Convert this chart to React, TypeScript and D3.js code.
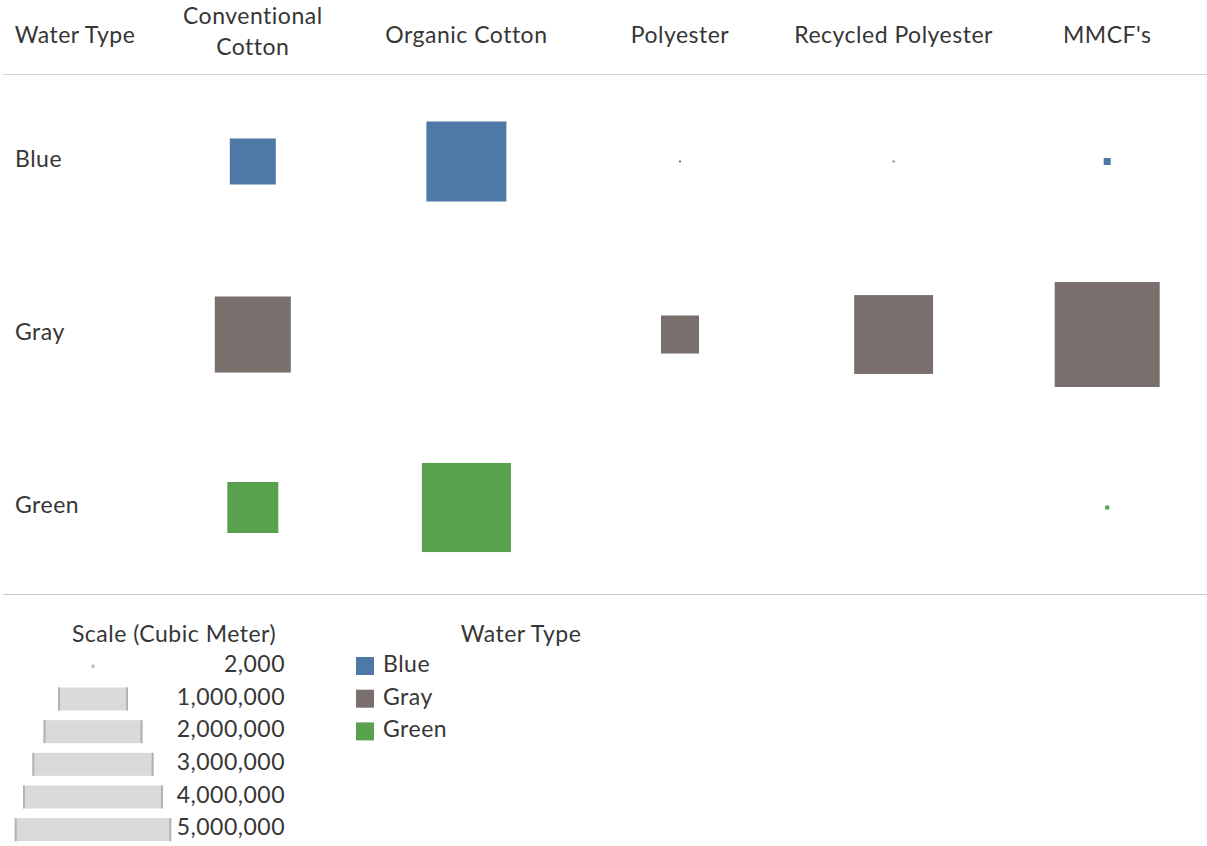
import React from "react";
import * as d3 from "d3";

const materials = ["Conventional Cotton", "Organic Cotton", "Polyester", "Recycled Polyester", "MMCF's"];
const materialLines = [["Conventional", "Cotton"], ["Organic Cotton"], ["Polyester"], ["Recycled Polyester"], ["MMCF's"]];
const waterTypes = ["Blue", "Gray", "Green"];
const waterColors = ["#4e79a7", "#79706e", "#59a14f"];

// values in cubic meters, per water type, per material (null = no data)
const blueValues = [432000, 1306000, 800, 700, 10000];
const grayValues = [1180000, null, 295000, 1270000, 2250000];
const greenValues = [531000, 1620000, null, null, 3300];
const seriesValues = [blueValues, grayValues, greenValues];

const scaleTicks = [2000, 1000000, 2000000, 3000000, 4000000, 5000000];

const W = 1207;
const H = 846;
const FONT = "Lato, 'Open Sans', sans-serif";
const TXT = "#363636";
const FS = 23;
const LS = 0.5;

export default function App() {
  const x = d3.scaleBand<string>().domain(materials).range([146, 1214]);
  const y = d3.scaleBand<string>().domain(waterTypes).range([75, 594]);
  const side = d3.scaleSqrt().domain([0, 1000000]).range([0, 70]);
  const legY = d3.scaleBand<string>().domain(scaleTicks.map(String)).range([650, 846]);
  const fmt = d3.format(",");

  return (
    <div style={{ position: "absolute", left: 0, top: 0 }}>
      <svg width={W} height={H} style={{ display: "block", background: "#fff" }} fontFamily={FONT} letterSpacing={LS}>
        {/* header */}
        <text x={75} y={37} textAnchor="middle" dominantBaseline="middle" fontSize={FS} fill={TXT}>Water Type</text>
        {materials.map((m, i) => {
          const lines = materialLines[i];
          const cx = x(m)! + x.bandwidth() / 2;
          return (
            <text key={m} x={cx} textAnchor="middle" fontSize={FS} fill={TXT}>
              {lines.map((l, j) => (
                <tspan key={j} x={cx} y={lines.length === 1 ? 37 : 18 + j * 31} dominantBaseline="middle">{l}</tspan>
              ))}
            </text>
          );
        })}
        <line x1={3} x2={W} y1={74.5} y2={74.5} stroke="#d4d4d4" strokeWidth={1} />
        <line x1={3} x2={W} y1={594.5} y2={594.5} stroke="#c8c8c8" strokeWidth={1} />

        {/* row labels */}
        {waterTypes.map((w) => (
          <text key={w} x={15} y={y(w)! + y.bandwidth() / 2} dominantBaseline="middle" fontSize={FS} fill={TXT}>{w}</text>
        ))}

        {/* squares */}
        {waterTypes.map((w, r) =>
          seriesValues[r].map((v, c) => {
            if (v == null) return null;
            const s = side(v);
            const cx = x(materials[c])! + x.bandwidth() / 2;
            const cy = y(w)! + y.bandwidth() / 2;
            return <rect key={w + c} x={cx - s / 2} y={cy - s / 2} width={s} height={s} fill={waterColors[r]} />;
          })
        )}

        {/* size legend */}
        <text x={174} y={636} textAnchor="middle" dominantBaseline="middle" fontSize={FS} fill={TXT}>Scale (Cubic Meter)</text>
        {scaleTicks.map((t) => {
          const cy = legY(String(t))! + legY.bandwidth() / 2;
          const s = side(t);
          return (
            <g key={t}>
              {s < 6 ? (
                <circle cx={93} cy={cy} r={2} fill="#c4c4c4" />
              ) : (
                <g>
                  <rect x={93 - s / 2} y={cy - 11.5} width={s} height={23} fill="#d9d9d9" />
                  <rect x={93 - s / 2} y={cy - 11.5} width={2} height={23} fill="#b3b3b3" />
                  <rect x={93 + s / 2 - 2} y={cy - 11.5} width={2} height={23} fill="#b3b3b3" />
                </g>
              )}
              <text x={285} y={cy} textAnchor="end" dominantBaseline="middle" fontSize={FS} fill={TXT}>{fmt(t)}</text>
            </g>
          );
        })}

        {/* color legend */}
        <text x={521} y={636} textAnchor="middle" dominantBaseline="middle" fontSize={FS} fill={TXT}>Water Type</text>
        {waterTypes.map((w, i) => {
          const cy = 666 + i * 32.7;
          return (
            <g key={w}>
              <rect x={356} y={cy - 9} width={18} height={18} fill={waterColors[i]} />
              <text x={383} y={cy} dominantBaseline="middle" fontSize={FS} fill={TXT}>{w}</text>
            </g>
          );
        })}
      </svg>
    </div>
  );
}
